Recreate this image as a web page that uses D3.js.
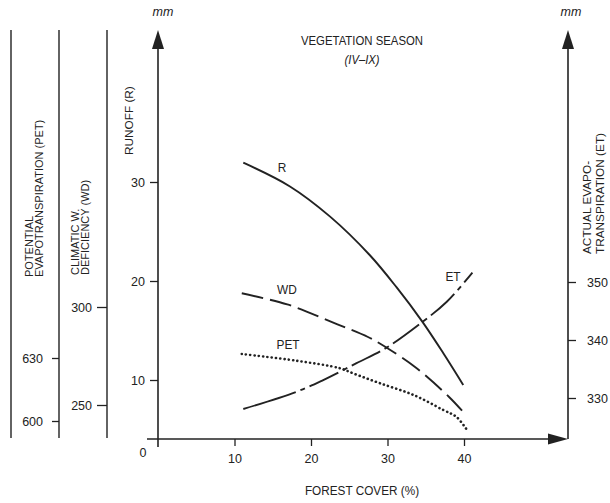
<!DOCTYPE html>
<html>
<head>
<meta charset="utf-8">
<script src="https://cdn.jsdelivr.net/npm/d3@7"></script>
<style>
  html, body { margin: 0; padding: 0; background: #fff; }
  svg { display: block; }
  text { font-family: "Liberation Sans", Arial, Helvetica, sans-serif; fill: #222; }
</style>
</head>
<body>
<svg id="chart" width="610" height="503"></svg>
<script>
// Forest cover (%) against seasonal water-balance components
const runoffCover = [11.15, 17.25, 22.5, 27.7, 31.2, 34.55, 37.3, 39.9];
const runoffValues = [31.95, 29.55, 26.5, 22.6, 19.35, 15.9, 12.7, 9.5];

const deficiencyCover = [10.95, 16.9, 22.75, 27.45, 29.95, 33.6, 38.05, 39.9];
const deficiencyValues = [307, 301.3, 292.3, 284.7, 279.1, 269.4, 254.1, 246.4];

const petCover = [10.95, 18.1, 23.8, 25.5, 29.0, 33.4, 37.3, 39.0, 40.4];
const petValues = [631.9, 628.7, 625.1, 622.7, 618.0, 612.4, 605.2, 602, 595.7];

const etCover = [11.15, 18.15, 21.6, 25.95, 29.9, 34.45, 37.75, 41.1];
const etValues = [328.1, 331.1, 333.1, 336.0, 338.7, 343.0, 346.6, 351.6];

const coverTicks = [10, 20, 30, 40];
const runoffTicks = [10, 20, 30];
const deficiencyTicks = [250, 300];
const petTicks = [600, 630];
const etTicks = [330, 340, 350];

const svg = d3.select("#chart");
const ink = "#222";

// Scales
const x = d3.scaleLinear().domain([0, 40]).range([158, 464]);
const yR = d3.scaleLinear().domain([10, 30]).range([380, 182]);
const yWD = d3.scaleLinear().domain([250, 300]).range([405, 307]);
const yPET = d3.scaleLinear().domain([600, 630]).range([421, 358]);
const yET = d3.scaleLinear().domain([330, 350]).range([398, 282]);

const baseY = 439;
const topY = 30;

// Frame lines on the left holding the secondary scales
[11, 59, 107].forEach(px => {
  svg.append("line")
    .attr("x1", px).attr("x2", px)
    .attr("y1", topY).attr("y2", 438)
    .attr("stroke", ink).attr("stroke-width", 1.4);
});

// Main vertical axes with arrowheads
function arrowUp(px, bottom) {
  svg.append("line")
    .attr("x1", px).attr("x2", px)
    .attr("y1", topY + 10).attr("y2", bottom)
    .attr("stroke", ink).attr("stroke-width", 1.6);
  svg.append("path")
    .attr("d", `M${px},${topY} L${px - 6},${topY + 19} L${px + 6},${topY + 19} Z`)
    .attr("fill", ink);
}
arrowUp(158, 447);
arrowUp(568, baseY);

// Horizontal axis with arrowhead
svg.append("line")
  .attr("x1", 147).attr("x2", 556)
  .attr("y1", baseY).attr("y2", baseY)
  .attr("stroke", ink).attr("stroke-width", 1.6);
svg.append("path")
  .attr("d", `M568,${baseY} L548,${baseY - 5.5} L548,${baseY + 5.5} Z`)
  .attr("fill", ink);

function styleAxis(g) {
  g.select(".domain").remove();
  g.selectAll(".tick line").attr("stroke", ink).attr("stroke-width", 1.3);
  g.selectAll(".tick text")
    .attr("font-size", 12.5)
    .attr("fill", ink)
    .style("font-family", "'Liberation Sans', Arial, sans-serif");
}

// Axis ticks
svg.append("g").attr("transform", `translate(0,${baseY})`)
  .call(d3.axisBottom(x).tickValues(coverTicks).tickSize(7).tickPadding(8))
  .call(styleAxis);

svg.append("g").attr("transform", "translate(158,0)")
  .call(d3.axisLeft(yR).tickValues(runoffTicks).tickSize(8).tickPadding(5))
  .call(styleAxis);

svg.append("g").attr("transform", "translate(107,0)")
  .call(d3.axisLeft(yWD).tickValues(deficiencyTicks).tickSize(10).tickPadding(5))
  .call(styleAxis);

svg.append("g").attr("transform", "translate(59,0)")
  .call(d3.axisLeft(yPET).tickValues(petTicks).tickSize(7).tickPadding(9))
  .call(styleAxis);

svg.append("g").attr("transform", "translate(568,0)")
  .call(d3.axisRight(yET).tickValues(etTicks).tickSize(8).tickPadding(11))
  .call(styleAxis);

// Horizontally condensed label
function label(px, py, str, size, squeeze, italic) {
  svg.append("text")
    .attr("transform", `translate(${px},${py}) scale(${squeeze},1)`)
    .attr("text-anchor", "middle")
    .attr("font-size", size)
    .attr("font-style", italic ? "italic" : "normal")
    .text(str);
}

// Origin label
label(143, 457, "0", 12.5, 1, false);

// Units
label(163, 16, "mm", 12.5, 1, true);
label(571, 16, "mm", 12.5, 1, true);

// Title
label(362, 45, "VEGETATION SEASON", 13, 0.875, false);
label(362, 64, "(IV–IX)", 12.5, 0.9, true);

// X axis title
label(362, 495, "FOREST COVER (%)", 12.8, 0.92, false);

// Rotated axis titles
function vText(px, py, str, size) {
  svg.append("text")
    .attr("transform", `translate(${px},${py}) rotate(-90)`)
    .attr("text-anchor", "start")
    .attr("font-size", size)
    .text(str);
}
vText(32.5, 277, "POTENTIAL", 11);
vText(42.5, 277, "EVAPOTRANSPIRATION (PET)", 11);
vText(78.5, 275, "CLIMATIC W.", 11);
vText(88.5, 275, "DEFICIENCY (WD)", 11);
vText(132.5, 155, "RUNOFF (R)", 11.8);
vText(590.5, 254, "ACTUAL EVAPO-", 11.8);
vText(603.5, 254, "TRANSPIRATION (ET)", 11.8);

// Dash pattern for ET: a long lead-in, then dash-dot
const etDash = [55, 5, 5, 5];
for (let i = 0; i < 12; i++) etDash.push(32, 5, 5, 5);

// Curves
function drawCurve(xs, vs, yScale, dash) {
  const pts = xs.map((c, i) => [x(c), yScale(vs[i])]);
  svg.append("path")
    .attr("d", d3.line().curve(d3.curveCatmullRom.alpha(0.5))(pts))
    .attr("fill", "none")
    .attr("stroke", ink)
    .attr("stroke-width", dash === "dot" ? 2.6 : 1.9)
    .attr("stroke-linecap", dash === "dot" ? "round" : "butt")
    .attr("stroke-dasharray", dash === "dot" ? "0.1,4.2" : dash);
}
drawCurve(runoffCover, runoffValues, yR, null);
drawCurve(deficiencyCover, deficiencyValues, yWD, "22,7");
drawCurve(petCover, petValues, yPET, "dot");
drawCurve(etCover, etValues, yET, etDash.join(","));

// Curve labels
label(282, 172, "R", 12.5, 0.95, false);
label(287, 294, "WD", 12.5, 0.95, false);
label(288, 349, "PET", 12.5, 0.95, false);
label(453, 281, "ET", 12.5, 0.95, false);
</script>
</body>
</html>
